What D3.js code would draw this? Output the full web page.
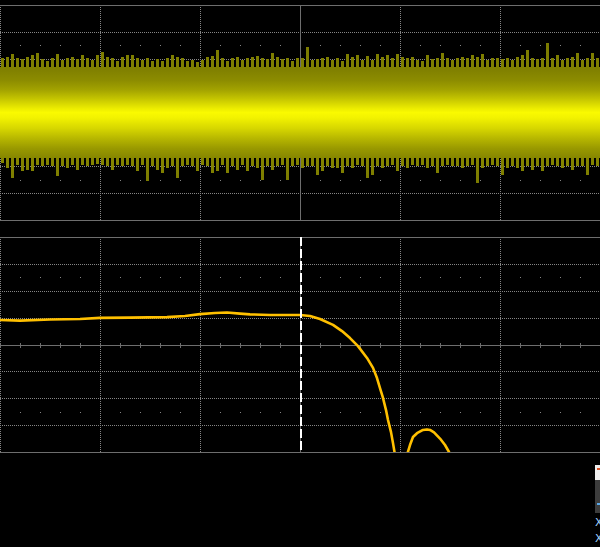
<!DOCTYPE html>
<html>
<head>
<meta charset="utf-8">
<script src="https://cdn.jsdelivr.net/npm/d3@7"></script>
<style>
  html, body { margin: 0; padding: 0; background: #000; overflow: hidden; }
  #scope { width: 600px; height: 547px; }
</style>
</head>
<body>
<div id="scope"></div>
<script>
// channel 1 noise envelope, volts (1 V/div), one sample per 0.5 us
var noiseHi = [2.02,2.08,2.18,2.02,1.98,2.08,2.14,2.20,1.98,1.93,2.02,2.18,1.95,2.02,2.08,1.98,2.14,2.02,1.95,2.14,
  2.26,2.08,2.02,1.93,2.08,2.14,2.14,2.02,1.95,2.02,1.93,1.98,1.93,2.02,2.14,2.08,2.02,1.93,1.95,1.89,
  1.95,2.08,2.10,2.33,2.02,1.93,2.02,2.08,1.95,2.02,2.08,2.10,2.02,1.98,2.20,2.08,1.98,2.02,1.93,2.02,
  2.02,2.45,1.95,1.98,2.02,2.08,1.95,2.02,1.93,2.18,2.08,2.14,1.95,2.10,1.95,2.18,2.08,2.14,2.02,2.18,
  2.08,2.02,2.08,1.95,1.93,2.14,1.98,2.02,2.20,2.02,1.95,2.02,2.08,2.02,2.14,2.08,2.18,1.95,2.02,2.02,
  1.98,2.02,1.95,2.08,2.14,2.33,2.02,1.98,2.02,2.57,2.02,2.14,1.95,2.02,2.08,2.20,1.95,2.02,2.20,2.02];
var noiseLo = [-1.88,-2.07,-2.44,-1.94,-2.19,-2.13,-2.19,-1.94,-2.00,-1.94,-2.00,-2.38,-2.00,-2.07,-1.94,-2.13,-1.94,-2.00,-1.94,-1.92,
  -1.94,-2.00,-2.13,-1.94,-2.00,-1.94,-2.00,-2.19,-1.94,-2.56,-2.00,-2.13,-2.25,-2.07,-2.00,-2.44,-2.00,-1.94,-2.00,-2.19,
  -1.94,-2.00,-2.25,-2.19,-1.94,-2.25,-2.00,-2.13,-1.94,-2.19,-2.00,-2.07,-2.50,-2.00,-2.13,-2.00,-1.94,-2.50,-2.00,-1.94,
  -2.07,-2.00,-2.00,-2.31,-2.19,-2.00,-2.07,-2.07,-2.25,-2.00,-2.07,-1.94,-2.00,-2.44,-2.31,-2.00,-2.07,-2.00,-1.94,-2.19,
  -2.00,-2.07,-1.94,-2.00,-1.94,-2.07,-2.00,-2.25,-2.00,-1.94,-2.00,-2.00,-2.07,-2.00,-1.94,-2.62,-2.07,-2.00,-1.94,-2.00,
  -2.31,-2.07,-2.00,-2.07,-2.19,-2.00,-2.13,-2.00,-2.19,-2.00,-1.94,-2.00,-2.07,-2.00,-2.13,-2.00,-2.00,-2.31,-1.94,-2.00];
var noiseCore = [-1.7, 1.68];

// FFT of channel 1, MHz / dBV
var fftFreq = [0, 2, 5, 8, 10, 13, 16.7, 18.5, 20, 21.5, 22.7, 24, 25, 27, 29, 30, 31, 32, 33.3, 34.2,
  35, 35.8, 36.7, 37.3, 37.7, 38, 38.3, 38.6, 38.8, 39.1, 39.3, 39.5, 40.1, 40.7, 41, 41.3, 41.7, 42.3,
  42.7, 43, 43.4, 44, 44.5, 44.9, 45.3];
var fftDb = [-40.9, -41.1, -40.7, -40.5, -40.1, -40.0, -39.8, -39.4, -38.7, -38.3, -38.1, -38.5, -38.8, -39.0, -39.0, -39.0, -39.4, -40.5, -42.7, -45.0,
  -47.6, -50.6, -55.0, -58.7, -62.5, -66.2, -69.9, -74.4, -78.1, -82.6, -86.7, -91.1, -104.1, -91.1, -87.4, -84.4, -83.0, -81.8,
  -81.6, -81.8, -82.7, -85.0, -87.4, -90.0, -93.7];
var markerFreq = 30;

var svg;
var W = 600, H = 547;
var gridSolid = "#6e6e6e", gridDot = "#858585";

function px(v) { return Math.round(v) + 0.5; }

function drawGrid(g, x, y, xMajor, yMajor, dotRows) {
    const x0 = x.range()[0], x1 = x.range()[1];
    const yTop = y.range()[1], yBot = y.range()[0];
    const yMid = (yTop + yBot) / 2;

    // dotted divisions
    g.selectAll(".vgrid").data(xMajor).join("line")
        .attr("x1", d => px(x(d))).attr("x2", d => px(x(d)))
        .attr("y1", yTop).attr("y2", yBot)
        .attr("stroke", gridDot)
        .attr("stroke-dasharray", "1,1");
    g.selectAll(".hgrid").data(yMajor.slice(1, -1)).join("line")
        .attr("x1", x0).attr("x2", x1)
        .attr("y1", d => px(y(d))).attr("y2", d => px(y(d)))
        .attr("stroke", gridDot)
        .attr("stroke-dasharray", "1,1");

    // frame
    [yTop, yBot].forEach(v => {
        g.append("line").attr("x1", x0).attr("x2", x1)
            .attr("y1", px(v)).attr("y2", px(v))
            .attr("stroke", gridSolid);
    });

    // center axes
    g.append("line").attr("x1", x0).attr("x2", x1)
        .attr("y1", px(yMid)).attr("y2", px(yMid))
        .attr("stroke", gridSolid);
    g.append("line").attr("x1", 300.5).attr("x2", 300.5)
        .attr("y1", yTop).attr("y2", yBot)
        .attr("stroke", gridSolid);
    const minorX = d3.range(x0, x1 + 1, 20);
    g.selectAll(".tickx").data(minorX).join("line")
        .attr("x1", d => px(d)).attr("x2", d => px(d))
        .attr("y1", Math.round(yMid) - 2).attr("y2", Math.round(yMid) + 3)
        .attr("stroke", gridSolid);

    // fine dot rows
    const dots = [];
    dotRows.forEach(r => minorX.forEach(d => { if (d % 100 !== 0) dots.push([d, y(r)]); }));
    g.selectAll(".dot").data(dots).join("rect")
        .attr("x", d => Math.round(d[0])).attr("y", d => Math.round(d[1]))
        .attr("width", 1).attr("height", 1)
        .attr("fill", gridDot);
}

function drawNoise() {
    const x = d3.scaleLinear().domain([-30, 30]).range([0, W]);
    const y = d3.scaleLinear().domain([-4, 4]).range([220, 5]);
    const t = noiseHi.map((d, i) => -30 + i * 0.5);

    const g = svg.append("g");
    drawGrid(g, x, y, d3.range(-30, 31, 10), d3.range(-4, 5, 1), [2.5, -2.5]);

    const defs = svg.append("defs");
    const grad = defs.append("linearGradient")
        .attr("id", "noiseGrad")
        .attr("gradientUnits", "userSpaceOnUse")
        .attr("x1", 0).attr("x2", 0)
        .attr("y1", y(2.7)).attr("y2", y(-2.7));
    const stops = [
        [2.7, "#7a7a00"], [1.6, "#808000"], [1.2, "#8c8c00"], [0.85, "#a2a200"], [0.5, "#c6c600"],
        [0.15, "#ecec00"], [0, "#fafa00"], [-0.2, "#f2f200"], [-0.6, "#d6d600"], [-0.95, "#b8b800"],
        [-1.35, "#989800"], [-1.7, "#868600"], [-2.7, "#7a7a00"]
    ];
    grad.selectAll("stop").data(stops).join("stop")
        .attr("offset", d => (y(d[0]) - y(2.7)) / (y(-2.7) - y(2.7)))
        .attr("stop-color", d => d[1]);

    g.append("rect")
        .attr("x", 0).attr("width", W)
        .attr("y", y(noiseCore[1]))
        .attr("height", y(noiseCore[0]) - y(noiseCore[1]))
        .attr("fill", "url(#noiseGrad)");

    g.selectAll(".hair").data(t).join("line")
        .attr("x1", d => x(d) + 2.5).attr("x2", d => x(d) + 2.5)
        .attr("y1", (d, i) => y(noiseHi[i]))
        .attr("y2", (d, i) => y(noiseLo[i]))
        .attr("stroke", "url(#noiseGrad)")
        .attr("stroke-width", 2.5);
}

function drawFFT() {
    const x = d3.scaleLinear().domain([0, 60]).range([0, W]);
    const y = d3.scaleLinear().domain([-90, -10]).range([452, 237]);

    const g = svg.append("g");
    drawGrid(g, x, y, d3.range(0, 61, 10), d3.range(-90, -9, 10), [-25, -75]);

    svg.append("clipPath").attr("id", "fftClip")
        .append("rect").attr("x", 0).attr("y", 237).attr("width", W).attr("height", 215);

    const line = d3.line()
        .x((d, i) => x(fftFreq[i]))
        .y(d => y(d));

    g.append("path")
        .datum(fftDb)
        .attr("d", line)
        .attr("clip-path", "url(#fftClip)")
        .attr("fill", "none")
        .attr("stroke", "#ffc000")
        .attr("stroke-width", 2.6)
        .attr("stroke-linejoin", "round");

    g.append("line")
        .attr("x1", x(markerFreq) + 1).attr("x2", x(markerFreq) + 1)
        .attr("y1", 237).attr("y2", 452)
        .attr("stroke", "#ffffff")
        .attr("stroke-width", 2)
        .attr("stroke-dasharray", "9,3");
}

function drawSidePanel() {
    const g = svg.append("g");
    g.append("rect").attr("x", 595).attr("y", 465).attr("width", 6).attr("height", 15).attr("fill", "#eeeeee");
    g.append("rect").attr("x", 597).attr("y", 468).attr("width", 3).attr("height", 2).attr("fill", "#d8542a");
    g.append("rect").attr("x", 595).attr("y", 480).attr("width", 6).attr("height", 33).attr("fill", "#3c3c3c");
    g.append("rect").attr("x", 597).attr("y", 503).attr("width", 3).attr("height", 2).attr("fill", "#5aa8e8");
    // channel labels, cut by the screen edge as in the capture
    ["X1", "X2"].forEach((s, i) => {
        g.append("text")
            .attr("x", 595).attr("y", 526 + i * 16)
            .attr("font-family", "DejaVu Sans, sans-serif")
            .attr("font-size", "11px")
            .attr("fill", "#9fd0ff")
            .text(s);
    });
}

document.addEventListener("DOMContentLoaded", () => {
    svg = d3.select("#scope").append("svg")
        .attr("width", W)
        .attr("height", H)
        .style("display", "block")
        .style("background", "#000");
    svg.attr("shape-rendering", "crispEdges");
    drawNoise();
    drawFFT();
    svg.selectAll("path").attr("shape-rendering", "auto");
    drawSidePanel();
});
</script>
</body>
</html>
